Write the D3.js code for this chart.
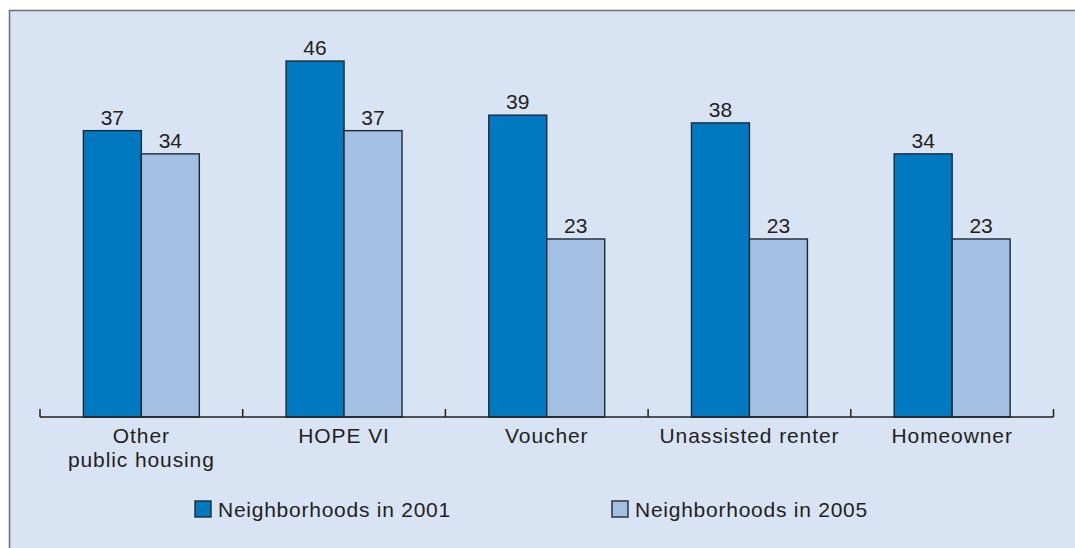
<!DOCTYPE html>
<html><head><meta charset="utf-8">
<script src="https://cdn.jsdelivr.net/npm/d3@7"></script>
<style>
html,body{margin:0;padding:0;background:#fff;}
svg{display:block;}
text{font-family:"Liberation Sans",Arial,Helvetica,sans-serif;fill:#231f20;}
</style></head><body>
<svg id="c" width="1075" height="548"></svg>
<script>
const categories = ["Other\npublic housing","HOPE VI","Voucher","Unassisted renter","Homeowner"];
const seriesNames = ["Neighborhoods in 2001","Neighborhoods in 2005"];
const values2001 = [37,46,39,38,34];
const values2005 = [34,37,23,23,23];
const colors = ["#0079c1","#a3bfe2"];

const svg = d3.select("#c");
// panel
svg.append("rect").attr("x",9.5).attr("y",10.5).attr("width",1075).attr("height",548)
  .attr("fill","#d8e3f3").attr("stroke","#6d6e71").attr("stroke-width",1.5);

const x0 = d3.scaleBand().domain(categories).range([40,1053.5]).paddingInner(0.428).paddingOuter(0.214);
const x1 = d3.scaleBand().domain(seriesNames).range([0,x0.bandwidth()]);
const y = d3.scaleLinear().domain([0,46]).range([417,61]);

const data = categories.map((c,i)=>({cat:c, vals:[values2001[i],values2005[i]]}));
const g = svg.append("g");
const groups = g.selectAll("g.grp").data(data).join("g").attr("transform",d=>`translate(${x0(d.cat)},0)`);
groups.selectAll("rect").data(d=>d.vals.map((v,j)=>({v,s:seriesNames[j],j})))
  .join("rect")
  .attr("x",d=>x1(d.s)).attr("width",x1.bandwidth())
  .attr("y",d=>y(d.v)).attr("height",d=>y(0)-y(d.v))
  .attr("fill",d=>colors[d.j]).attr("stroke","#1d2a36").attr("stroke-width",1.4);
groups.selectAll("text.val").data(d=>d.vals.map((v,j)=>({v,s:seriesNames[j],j})))
  .join("text").attr("class","val")
  .attr("x",d=>x1(d.s)+x1.bandwidth()/2).attr("y",d=>y(d.v)-6)
  .attr("text-anchor","middle").attr("font-size",21).text(d=>d.v);

// axis line + ticks at band boundaries
const r = x0.range();
const step = x0.step();
const bounds = d3.range(categories.length+1).map(i=>r[0]+i*step);
svg.append("line").attr("x1",r[0]).attr("x2",r[1]).attr("y1",417).attr("y2",417)
  .attr("stroke","#231f20").attr("stroke-width",1.5);
svg.selectAll("line.tick").data(bounds).join("line").attr("class","tick")
  .attr("x1",d=>d).attr("x2",d=>d).attr("y1",417).attr("y2",409)
  .attr("stroke","#231f20").attr("stroke-width",1.5);

// category labels
const cl = svg.selectAll("text.cat").data(categories).join("text").attr("class","cat")
  .attr("text-anchor","middle").attr("font-size",21).attr("letter-spacing",0.9)
  .attr("transform",d=>`translate(${x0(d)+x0.bandwidth()/2},443)`);
cl.selectAll("tspan").data(d=>d.split("\n")).join("tspan")
  .attr("x",0).attr("dy",(d,i)=>i===0?0:24).text(d=>d);

// legend
const legX = [195,612];
const lg = svg.selectAll("g.leg").data(seriesNames).join("g").attr("class","leg")
  .attr("transform",(d,i)=>`translate(${legX[i]},501)`);
lg.append("rect").attr("width",16).attr("height",16).attr("fill",(d,i)=>colors[i])
  .attr("stroke","#1d2a36").attr("stroke-width",1.4);
lg.append("text").attr("x",23).attr("y",15.5).attr("font-size",21).attr("letter-spacing",0.75).text(d=>d);
</script>
</body></html>
